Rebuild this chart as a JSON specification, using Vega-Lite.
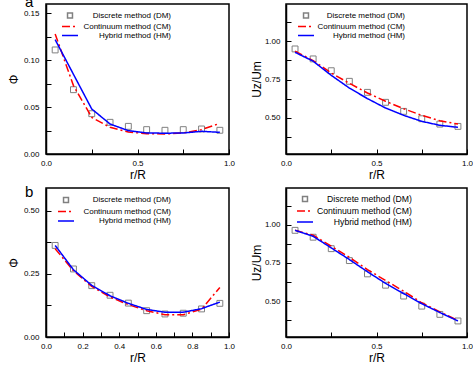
{
  "$schema": "https://vega.github.io/schema/vega-lite/v6.json",
  "padding": {"left": 6, "top": -6, "right": 0, "bottom": 0},
  "background": "white",
  "config": {
    "font": "Liberation Sans",
    "view": {"stroke": "#000", "strokeWidth": 1.5},
    "axis": {
      "domainColor": "#000", "domainWidth": 1.5, "tickColor": "#000", "tickSize": -5, "tickWidth": 1,
      "labelColor": "#000", "labelFontSize": 8, "labelFlush": false, "labelOverlap": false,
      "titleFontSize": 12, "titleFontWeight": "normal", "titleColor": "#000", "grid": false
    },
    "axisX": {"titlePadding": 2, "labelPadding": 10},
    "axisY": {"titlePadding": 3, "labelPadding": 12},
    "legend": {"labelFont": "Liberation Sans", "labelColor": "#000"},
    "title": {"fontSize": 15, "fontWeight": "normal", "color": "#000", "anchor": "start", "frame": "group", "offset": 0, "baseline": "alphabetic"}
  },
  "datasets": {
    "a1": [
      {"m": "DM", "r": 0.05, "v": 0.111}, {"m": "DM", "r": 0.15, "v": 0.0686}, {"m": "DM", "r": 0.25, "v": 0.043},
      {"m": "DM", "r": 0.35, "v": 0.0338}, {"m": "DM", "r": 0.45, "v": 0.0295}, {"m": "DM", "r": 0.55, "v": 0.026},
      {"m": "DM", "r": 0.65, "v": 0.0253}, {"m": "DM", "r": 0.75, "v": 0.026}, {"m": "DM", "r": 0.85, "v": 0.0267},
      {"m": "DM", "r": 0.95, "v": 0.0253},
      {"m": "CM", "r": 0.05, "v": 0.128}, {"m": "CM", "r": 0.15, "v": 0.073}, {"m": "CM", "r": 0.25, "v": 0.039},
      {"m": "CM", "r": 0.35, "v": 0.0285}, {"m": "CM", "r": 0.45, "v": 0.0235}, {"m": "CM", "r": 0.55, "v": 0.0217},
      {"m": "CM", "r": 0.65, "v": 0.0213}, {"m": "CM", "r": 0.75, "v": 0.0224}, {"m": "CM", "r": 0.85, "v": 0.026},
      {"m": "CM", "r": 0.94, "v": 0.032},
      {"m": "HM", "r": 0.05, "v": 0.122}, {"m": "HM", "r": 0.15, "v": 0.085}, {"m": "HM", "r": 0.25, "v": 0.048},
      {"m": "HM", "r": 0.35, "v": 0.032}, {"m": "HM", "r": 0.45, "v": 0.0249}, {"m": "HM", "r": 0.55, "v": 0.0224},
      {"m": "HM", "r": 0.65, "v": 0.0222}, {"m": "HM", "r": 0.75, "v": 0.0224}, {"m": "HM", "r": 0.85, "v": 0.0242},
      {"m": "HM", "r": 0.95, "v": 0.0231}
    ],
    "a2": [
      {"m": "DM", "r": 0.05, "v": 0.95}, {"m": "DM", "r": 0.15, "v": 0.885}, {"m": "DM", "r": 0.25, "v": 0.808},
      {"m": "DM", "r": 0.35, "v": 0.739}, {"m": "DM", "r": 0.45, "v": 0.667}, {"m": "DM", "r": 0.55, "v": 0.602},
      {"m": "DM", "r": 0.65, "v": 0.543}, {"m": "DM", "r": 0.75, "v": 0.495}, {"m": "DM", "r": 0.85, "v": 0.46},
      {"m": "DM", "r": 0.95, "v": 0.445},
      {"m": "CM", "r": 0.05, "v": 0.935}, {"m": "CM", "r": 0.15, "v": 0.874}, {"m": "CM", "r": 0.25, "v": 0.793},
      {"m": "CM", "r": 0.35, "v": 0.726}, {"m": "CM", "r": 0.45, "v": 0.663}, {"m": "CM", "r": 0.55, "v": 0.609},
      {"m": "CM", "r": 0.65, "v": 0.56}, {"m": "CM", "r": 0.75, "v": 0.517}, {"m": "CM", "r": 0.85, "v": 0.482},
      {"m": "CM", "r": 0.95, "v": 0.46},
      {"m": "HM", "r": 0.05, "v": 0.928}, {"m": "HM", "r": 0.15, "v": 0.87}, {"m": "HM", "r": 0.25, "v": 0.778},
      {"m": "HM", "r": 0.35, "v": 0.695}, {"m": "HM", "r": 0.45, "v": 0.626}, {"m": "HM", "r": 0.55, "v": 0.565},
      {"m": "HM", "r": 0.65, "v": 0.517}, {"m": "HM", "r": 0.75, "v": 0.478}, {"m": "HM", "r": 0.85, "v": 0.452},
      {"m": "HM", "r": 0.95, "v": 0.439}
    ],
    "b1": [
      {"m": "DM", "r": 0.05, "v": 0.362}, {"m": "DM", "r": 0.15, "v": 0.269}, {"m": "DM", "r": 0.25, "v": 0.203},
      {"m": "DM", "r": 0.35, "v": 0.165}, {"m": "DM", "r": 0.45, "v": 0.134}, {"m": "DM", "r": 0.55, "v": 0.104},
      {"m": "DM", "r": 0.65, "v": 0.091}, {"m": "DM", "r": 0.75, "v": 0.094}, {"m": "DM", "r": 0.85, "v": 0.111},
      {"m": "DM", "r": 0.95, "v": 0.133},
      {"m": "CM", "r": 0.05, "v": 0.349}, {"m": "CM", "r": 0.15, "v": 0.262}, {"m": "CM", "r": 0.25, "v": 0.2},
      {"m": "CM", "r": 0.35, "v": 0.158}, {"m": "CM", "r": 0.45, "v": 0.128}, {"m": "CM", "r": 0.55, "v": 0.104},
      {"m": "CM", "r": 0.65, "v": 0.088}, {"m": "CM", "r": 0.75, "v": 0.088}, {"m": "CM", "r": 0.85, "v": 0.11},
      {"m": "CM", "r": 0.95, "v": 0.196},
      {"m": "HM", "r": 0.05, "v": 0.362}, {"m": "HM", "r": 0.15, "v": 0.266}, {"m": "HM", "r": 0.25, "v": 0.204},
      {"m": "HM", "r": 0.35, "v": 0.163}, {"m": "HM", "r": 0.45, "v": 0.133}, {"m": "HM", "r": 0.55, "v": 0.109},
      {"m": "HM", "r": 0.65, "v": 0.098}, {"m": "HM", "r": 0.75, "v": 0.098}, {"m": "HM", "r": 0.85, "v": 0.112},
      {"m": "HM", "r": 0.95, "v": 0.138}
    ],
    "b2": [
      {"m": "DM", "r": 0.05, "v": 0.963}, {"m": "DM", "r": 0.15, "v": 0.918}, {"m": "DM", "r": 0.25, "v": 0.843},
      {"m": "DM", "r": 0.35, "v": 0.765}, {"m": "DM", "r": 0.45, "v": 0.678}, {"m": "DM", "r": 0.55, "v": 0.604},
      {"m": "DM", "r": 0.65, "v": 0.533}, {"m": "DM", "r": 0.75, "v": 0.467}, {"m": "DM", "r": 0.85, "v": 0.413},
      {"m": "DM", "r": 0.95, "v": 0.37},
      {"m": "CM", "r": 0.05, "v": 0.963}, {"m": "CM", "r": 0.15, "v": 0.931}, {"m": "CM", "r": 0.25, "v": 0.859},
      {"m": "CM", "r": 0.35, "v": 0.787}, {"m": "CM", "r": 0.45, "v": 0.706}, {"m": "CM", "r": 0.55, "v": 0.635},
      {"m": "CM", "r": 0.65, "v": 0.565}, {"m": "CM", "r": 0.75, "v": 0.489}, {"m": "CM", "r": 0.85, "v": 0.429},
      {"m": "CM", "r": 0.95, "v": 0.374},
      {"m": "HM", "r": 0.05, "v": 0.963}, {"m": "HM", "r": 0.15, "v": 0.924}, {"m": "HM", "r": 0.25, "v": 0.848},
      {"m": "HM", "r": 0.35, "v": 0.772}, {"m": "HM", "r": 0.45, "v": 0.692}, {"m": "HM", "r": 0.55, "v": 0.616},
      {"m": "HM", "r": 0.65, "v": 0.549}, {"m": "HM", "r": 0.75, "v": 0.483}, {"m": "HM", "r": 0.85, "v": 0.425},
      {"m": "HM", "r": 0.95, "v": 0.37}
    ]
  },
  "columns": 2,
  "bounds": "flush",
  "spacing": {"row": 34, "column": 57},
  "resolve": {
    "scale": {"x": "independent", "y": "independent", "color": "independent", "shape": "independent", "strokeDash": "independent"},
    "legend": {"color": "independent", "shape": "independent", "strokeDash": "independent"}
  },
  "concat": [
    {
      "width": 183, "height": 150,
      "title": {"text": "a", "dx": -21, "dy": 10},
      "data": {"name": "a1"},
      "encoding": {
        "x": {"field": "r", "type": "quantitative", "title": "r/R", "scale": {"domain": [0, 1], "nice": false, "zero": false},
              "axis": {"values": [0, 0.25, 0.5, 0.75, 1], "labelExpr": "abs(datum.value*2-round(datum.value*2))<0.001 ? format(datum.value,'.1f') : ''"}},
        "y": {"field": "v", "type": "quantitative", "title": "Φ", "scale": {"domain": [0, 0.16], "nice": false, "zero": false},
              "axis": {"values": [0, 0.025, 0.05, 0.075, 0.1, 0.125, 0.15], "labelExpr": "abs(datum.value*20-round(datum.value*20))<0.001 ? format(datum.value,'.2f') : ''"}}
      },
      "layer": [
        {"transform": [{"filter": "datum.m=='DM'"}],
         "mark": {"type": "point", "filled": false, "size": 90, "strokeWidth": 1, "opacity": 1},
         "encoding": {
           "color": {"field": "m", "type": "nominal", "scale": {"domain": ["DM", "CM", "HM"], "range": ["#808080", "#ff0000", "#0000ff"]},
                     "legend": {"orient": "none", "legendX": 19, "legendY": 6.5, "title": null, "padding": 0, "rowPadding": 0, "symbolSize": 64, "symbolStrokeWidth": 1.5, "labelFontSize": 8, "labelAlign": "right", "labelOffset": 96, "labelExpr": "datum.label=='DM' ? 'Discrete method (DM)' : datum.label=='CM' ? 'Continuum method (CM)' : 'Hybrid method  (HM)'"}},
           "shape": {"field": "m", "type": "nominal", "scale": {"domain": ["DM", "CM", "HM"], "range": ["M-0.62,-0.62H0.62V0.62H-0.62Z", "M-2,0H2", "M-2,0H2"]},
                     "legend": {"orient": "none", "legendX": 19, "legendY": 6.5, "title": null, "padding": 0, "rowPadding": 0, "symbolSize": 64, "symbolStrokeWidth": 1.5, "labelFontSize": 8, "labelAlign": "right", "labelOffset": 96, "labelExpr": "datum.label=='DM' ? 'Discrete method (DM)' : datum.label=='CM' ? 'Continuum method (CM)' : 'Hybrid method  (HM)'"}}
         }},
        {"transform": [{"filter": "datum.m!='DM'"}],
         "mark": {"type": "line", "strokeWidth": 1.5},
         "encoding": {
           "color": {"field": "m", "type": "nominal", "scale": {"domain": ["DM", "CM", "HM"], "range": ["#808080", "#ff0000", "#0000ff"]},
                     "legend": {"orient": "none", "legendX": 19, "legendY": 6.5, "title": null, "padding": 0, "rowPadding": 0, "symbolSize": 64, "symbolStrokeWidth": 1.5, "labelFontSize": 8, "labelAlign": "right", "labelOffset": 96, "labelExpr": "datum.label=='DM' ? 'Discrete method (DM)' : datum.label=='CM' ? 'Continuum method (CM)' : 'Hybrid method  (HM)'"}},
           "strokeDash": {"field": "m", "type": "nominal", "scale": {"domain": ["DM", "CM", "HM"], "range": [[1, 0], [8, 3, 2, 3], [1, 0]]},
                     "legend": {"orient": "none", "legendX": 19, "legendY": 6.5, "title": null, "padding": 0, "rowPadding": 0, "symbolSize": 64, "symbolStrokeWidth": 1.5, "labelFontSize": 8, "labelAlign": "right", "labelOffset": 96, "labelExpr": "datum.label=='DM' ? 'Discrete method (DM)' : datum.label=='CM' ? 'Continuum method (CM)' : 'Hybrid method  (HM)'"}}
         }}
      ]
    },
    {
      "width": 181, "height": 150,
      "data": {"name": "a2"},
      "encoding": {
        "x": {"field": "r", "type": "quantitative", "title": "r/R", "scale": {"domain": [0, 1], "nice": false, "zero": false},
              "axis": {"values": [0, 0.25, 0.5, 0.75, 1], "labelExpr": "abs(datum.value*2-round(datum.value*2))<0.001 ? format(datum.value,'.1f') : ''"}},
        "y": {"field": "v", "type": "quantitative", "title": "Uz/Um", "scale": {"domain": [0.265, 1.243], "nice": false, "zero": false},
              "axis": {"titlePadding": 1, "labelPadding": 11, "values": [0.375, 0.5, 0.625, 0.75, 0.875, 1, 1.125], "labelExpr": "abs(datum.value*4-round(datum.value*4))<0.001 ? format(datum.value,'.2f') : ''"}}
      },
      "layer": [
        {"transform": [{"filter": "datum.m=='DM'"}],
         "mark": {"type": "point", "filled": false, "size": 90, "strokeWidth": 1, "opacity": 1},
         "encoding": {
           "color": {"field": "m", "type": "nominal", "scale": {"domain": ["DM", "CM", "HM"], "range": ["#808080", "#ff0000", "#0000ff"]},
                     "legend": {"orient": "none", "legendX": 15, "legendY": 6.5, "title": null, "padding": 0, "rowPadding": 0, "symbolSize": 64, "symbolStrokeWidth": 1.5, "labelFontSize": 8, "labelAlign": "right", "labelOffset": 94, "labelExpr": "datum.label=='DM' ? 'Discrete method (DM)' : datum.label=='CM' ? 'Continuum method (CM)' : 'Hybrid method  (HM)'"}},
           "shape": {"field": "m", "type": "nominal", "scale": {"domain": ["DM", "CM", "HM"], "range": ["M-0.62,-0.62H0.62V0.62H-0.62Z", "M-2,0H2", "M-2,0H2"]},
                     "legend": {"orient": "none", "legendX": 15, "legendY": 6.5, "title": null, "padding": 0, "rowPadding": 0, "symbolSize": 64, "symbolStrokeWidth": 1.5, "labelFontSize": 8, "labelAlign": "right", "labelOffset": 94, "labelExpr": "datum.label=='DM' ? 'Discrete method (DM)' : datum.label=='CM' ? 'Continuum method (CM)' : 'Hybrid method  (HM)'"}}
         }},
        {"transform": [{"filter": "datum.m!='DM'"}],
         "mark": {"type": "line", "strokeWidth": 1.5},
         "encoding": {
           "color": {"field": "m", "type": "nominal", "scale": {"domain": ["DM", "CM", "HM"], "range": ["#808080", "#ff0000", "#0000ff"]},
                     "legend": {"orient": "none", "legendX": 15, "legendY": 6.5, "title": null, "padding": 0, "rowPadding": 0, "symbolSize": 64, "symbolStrokeWidth": 1.5, "labelFontSize": 8, "labelAlign": "right", "labelOffset": 94, "labelExpr": "datum.label=='DM' ? 'Discrete method (DM)' : datum.label=='CM' ? 'Continuum method (CM)' : 'Hybrid method  (HM)'"}},
           "strokeDash": {"field": "m", "type": "nominal", "scale": {"domain": ["DM", "CM", "HM"], "range": [[1, 0], [8, 3, 2, 3], [1, 0]]},
                     "legend": {"orient": "none", "legendX": 15, "legendY": 6.5, "title": null, "padding": 0, "rowPadding": 0, "symbolSize": 64, "symbolStrokeWidth": 1.5, "labelFontSize": 8, "labelAlign": "right", "labelOffset": 94, "labelExpr": "datum.label=='DM' ? 'Discrete method (DM)' : datum.label=='CM' ? 'Continuum method (CM)' : 'Hybrid method  (HM)'"}}
         }}
      ]
    },
    {
      "width": 183, "height": 149,
      "title": {"text": "b", "dx": -21, "dy": 16},
      "data": {"name": "b1"},
      "encoding": {
        "x": {"field": "r", "type": "quantitative", "title": "r/R", "scale": {"domain": [0, 1], "nice": false, "zero": false},
              "axis": {"values": [0, 0.1, 0.2, 0.3, 0.4, 0.5, 0.6, 0.7, 0.8, 0.9, 1], "labelExpr": "abs(datum.value*5-round(datum.value*5))<0.001 ? format(datum.value,'.1f') : ''"}},
        "y": {"field": "v", "type": "quantitative", "title": "Φ", "scale": {"domain": [0, 0.589], "nice": false, "zero": false},
              "axis": {"values": [0, 0.125, 0.25, 0.375, 0.5], "labelExpr": "abs(datum.value*4-round(datum.value*4))<0.001 ? format(datum.value,'.2f') : ''"}}
      },
      "layer": [
        {"transform": [{"filter": "datum.m=='DM'"}],
         "mark": {"type": "point", "filled": false, "size": 90, "strokeWidth": 1, "opacity": 1},
         "encoding": {
           "color": {"field": "m", "type": "nominal", "scale": {"domain": ["DM", "CM", "HM"], "range": ["#808080", "#ff0000", "#0000ff"]},
                     "legend": {"orient": "none", "legendX": 15, "legendY": 7, "title": null, "padding": 0, "rowPadding": 0.5, "symbolSize": 64, "symbolStrokeWidth": 1.5, "labelFontSize": 8, "labelAlign": "right", "labelOffset": 100, "labelExpr": "datum.label=='DM' ? 'Discrete method (DM)' : datum.label=='CM' ? 'Continuum method (CM)' : 'Hybrid method  (HM)'"}},
           "shape": {"field": "m", "type": "nominal", "scale": {"domain": ["DM", "CM", "HM"], "range": ["M-0.62,-0.62H0.62V0.62H-0.62Z", "M-2,0H2", "M-2,0H2"]},
                     "legend": {"orient": "none", "legendX": 15, "legendY": 7, "title": null, "padding": 0, "rowPadding": 0.5, "symbolSize": 64, "symbolStrokeWidth": 1.5, "labelFontSize": 8, "labelAlign": "right", "labelOffset": 100, "labelExpr": "datum.label=='DM' ? 'Discrete method (DM)' : datum.label=='CM' ? 'Continuum method (CM)' : 'Hybrid method  (HM)'"}}
         }},
        {"transform": [{"filter": "datum.m!='DM'"}],
         "mark": {"type": "line", "strokeWidth": 1.5},
         "encoding": {
           "color": {"field": "m", "type": "nominal", "scale": {"domain": ["DM", "CM", "HM"], "range": ["#808080", "#ff0000", "#0000ff"]},
                     "legend": {"orient": "none", "legendX": 15, "legendY": 7, "title": null, "padding": 0, "rowPadding": 0.5, "symbolSize": 64, "symbolStrokeWidth": 1.5, "labelFontSize": 8, "labelAlign": "right", "labelOffset": 100, "labelExpr": "datum.label=='DM' ? 'Discrete method (DM)' : datum.label=='CM' ? 'Continuum method (CM)' : 'Hybrid method  (HM)'"}},
           "strokeDash": {"field": "m", "type": "nominal", "scale": {"domain": ["DM", "CM", "HM"], "range": [[1, 0], [8, 3, 2, 3], [1, 0]]},
                     "legend": {"orient": "none", "legendX": 15, "legendY": 7, "title": null, "padding": 0, "rowPadding": 0.5, "symbolSize": 64, "symbolStrokeWidth": 1.5, "labelFontSize": 8, "labelAlign": "right", "labelOffset": 100, "labelExpr": "datum.label=='DM' ? 'Discrete method (DM)' : datum.label=='CM' ? 'Continuum method (CM)' : 'Hybrid method  (HM)'"}}
         }}
      ]
    },
    {
      "width": 181, "height": 149,
      "data": {"name": "b2"},
      "encoding": {
        "x": {"field": "r", "type": "quantitative", "title": "r/R", "scale": {"domain": [0, 1], "nice": false, "zero": false},
              "axis": {"values": [0, 0.25, 0.5, 0.75, 1], "labelExpr": "abs(datum.value*2-round(datum.value*2))<0.001 ? format(datum.value,'.1f') : ''"}},
        "y": {"field": "v", "type": "quantitative", "title": "Uz/Um", "scale": {"domain": [0.265, 1.24], "nice": false, "zero": false},
              "axis": {"titlePadding": 1, "labelPadding": 11, "values": [0.375, 0.5, 0.625, 0.75, 0.875, 1, 1.125], "labelExpr": "abs(datum.value*4-round(datum.value*4))<0.001 ? format(datum.value,'.2f') : ''"}}
      },
      "layer": [
        {"transform": [{"filter": "datum.m=='DM'"}],
         "mark": {"type": "point", "filled": false, "size": 90, "strokeWidth": 1, "opacity": 1},
         "encoding": {
           "color": {"field": "m", "type": "nominal", "scale": {"domain": ["DM", "CM", "HM"], "range": ["#808080", "#ff0000", "#0000ff"]},
                     "legend": {"orient": "none", "legendX": 14, "legendY": 6, "title": null, "padding": 0, "rowPadding": 1, "symbolSize": 64, "symbolStrokeWidth": 1.5, "labelFontSize": 8.7, "labelAlign": "right", "labelOffset": 102, "labelExpr": "datum.label=='DM' ? 'Discrete method (DM)' : datum.label=='CM' ? 'Continuum method (CM)' : 'Hybrid method  (HM)'"}},
           "shape": {"field": "m", "type": "nominal", "scale": {"domain": ["DM", "CM", "HM"], "range": ["M-0.62,-0.62H0.62V0.62H-0.62Z", "M-2,0H2", "M-2,0H2"]},
                     "legend": {"orient": "none", "legendX": 14, "legendY": 6, "title": null, "padding": 0, "rowPadding": 1, "symbolSize": 64, "symbolStrokeWidth": 1.5, "labelFontSize": 8.7, "labelAlign": "right", "labelOffset": 102, "labelExpr": "datum.label=='DM' ? 'Discrete method (DM)' : datum.label=='CM' ? 'Continuum method (CM)' : 'Hybrid method  (HM)'"}}
         }},
        {"transform": [{"filter": "datum.m!='DM'"}],
         "mark": {"type": "line", "strokeWidth": 1.5},
         "encoding": {
           "color": {"field": "m", "type": "nominal", "scale": {"domain": ["DM", "CM", "HM"], "range": ["#808080", "#ff0000", "#0000ff"]},
                     "legend": {"orient": "none", "legendX": 14, "legendY": 6, "title": null, "padding": 0, "rowPadding": 1, "symbolSize": 64, "symbolStrokeWidth": 1.5, "labelFontSize": 8.7, "labelAlign": "right", "labelOffset": 102, "labelExpr": "datum.label=='DM' ? 'Discrete method (DM)' : datum.label=='CM' ? 'Continuum method (CM)' : 'Hybrid method  (HM)'"}},
           "strokeDash": {"field": "m", "type": "nominal", "scale": {"domain": ["DM", "CM", "HM"], "range": [[1, 0], [8, 3, 2, 3], [1, 0]]},
                     "legend": {"orient": "none", "legendX": 14, "legendY": 6, "title": null, "padding": 0, "rowPadding": 1, "symbolSize": 64, "symbolStrokeWidth": 1.5, "labelFontSize": 8.7, "labelAlign": "right", "labelOffset": 102, "labelExpr": "datum.label=='DM' ? 'Discrete method (DM)' : datum.label=='CM' ? 'Continuum method (CM)' : 'Hybrid method  (HM)'"}}
         }}
      ]
    }
  ]
}
